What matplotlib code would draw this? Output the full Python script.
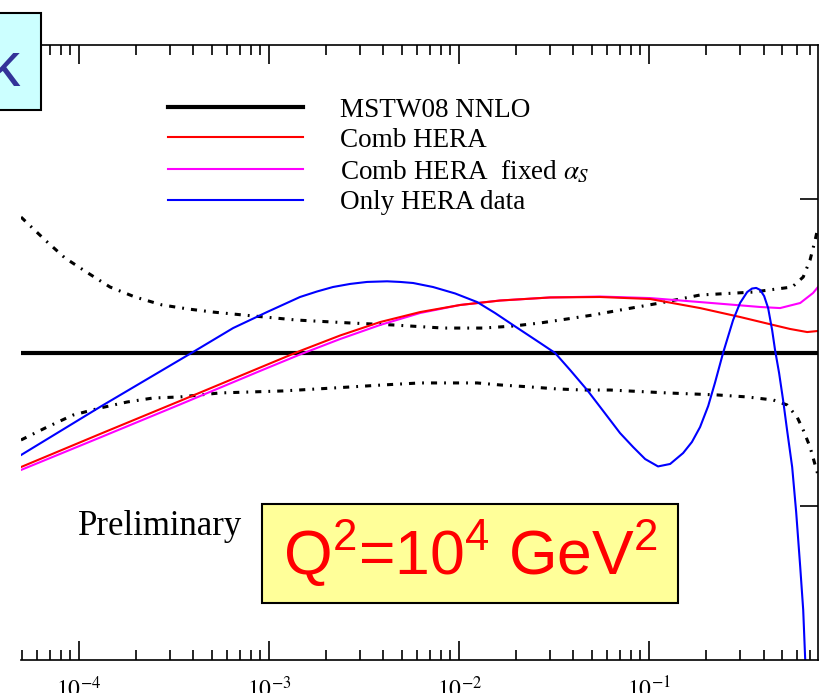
import matplotlib
matplotlib.use('Agg')
import matplotlib.pyplot as plt
from matplotlib.patches import Rectangle
from matplotlib.ticker import LogLocator, NullFormatter

plt.rcParams['font.family'] = ['Liberation Serif', 'DejaVu Serif']
plt.rcParams['mathtext.fontset'] = 'stix'
# used only by the Q^2 label (math_fontfamily='custom')
plt.rcParams['mathtext.rm'] = 'Liberation Sans'
plt.rcParams['mathtext.it'] = 'Liberation Sans'
plt.rcParams['mathtext.bf'] = 'Liberation Sans:bold'

# ratio to MSTW08 NNLO, Q^2 = 10^4 GeV^2
x_upper = [4.95e-5, 6.62e-5, 8.43e-5, 1.114e-4, 1.455e-4, 1.97e-4, 2.74e-4, 3.75e-4,
           5.07e-4, 7.29e-4, 1.40e-3, 2.67e-3, 4.50e-3, 8.24e-3, 1.337e-2, 1.92e-2,
           2.67e-2, 3.70e-2, 5.07e-2, 7.03e-2, 0.1143, 0.1854, 0.352, 0.566, 0.647,
           0.703, 0.748, 0.774]
y_upper = [1.0881, 1.0732, 1.0615, 1.0517, 1.0426, 1.0361, 1.0309, 1.0283,
           1.0263, 1.0244, 1.0211, 1.0192, 1.0179, 1.0159, 1.0159, 1.0172,
           1.0192, 1.0218, 1.0244, 1.0276, 1.0322, 1.0374, 1.0393, 1.0426, 1.0491,
           1.0602, 1.0732, 1.0816]

x_lower = [4.95e-5, 6.79e-5, 9.29e-5, 1.29e-4, 1.79e-4, 2.45e-4, 3.40e-4, 5.52e-4,
           1.186e-3, 2.17e-3, 3.98e-3, 6.24e-3, 8.97e-3, 1.245e-2, 1.64e-2, 2.37e-2,
           3.28e-2, 4.50e-2, 6.24e-2, 0.1245, 0.228, 0.328, 0.450, 0.532, 0.601,
           0.647, 0.703, 0.774]
y_lower = [0.9431, 0.9515, 0.9593, 0.9639, 0.9678, 0.9704, 0.9711, 0.9737,
           0.9750, 0.9769, 0.9789, 0.9802, 0.9802, 0.9802, 0.9789, 0.9776,
           0.9763, 0.9756, 0.9756, 0.9737, 0.9724, 0.9711, 0.9691, 0.9659, 0.9580,
           0.9496, 0.9385, 0.9203]

x_red = [4.95e-5, 1.29e-4, 3.40e-4, 8.97e-4, 1.455e-3, 2.37e-3, 3.84e-3, 6.24e-3,
         1.012e-2, 1.64e-2, 3.01e-2, 5.52e-2, 0.1012, 0.1854, 0.301, 0.450,
         0.552, 0.679, 0.774]
y_red = [0.9255, 0.9470, 0.9685, 0.9902, 1.0010, 1.0111, 1.0198, 1.0263,
         1.0309, 1.0338, 1.0358, 1.0361, 1.0348, 1.0289, 1.0231, 1.0179,
         1.0153, 1.0133, 1.0140]

x_mag = [4.95e-5, 1.29e-4, 3.40e-4, 8.97e-4, 1.455e-3, 2.37e-3, 3.84e-3, 6.24e-3,
         1.012e-2, 1.64e-2, 3.01e-2, 5.52e-2, 0.1012, 0.1854, 0.384, 0.489,
         0.624, 0.729, 0.774]
y_mag = [0.9236, 0.9447, 0.9662, 0.9880, 0.9987, 1.0088, 1.0179, 1.0257,
         1.0309, 1.0338, 1.0358, 1.0364, 1.0354, 1.0328, 1.0296, 1.0289,
         1.0322, 1.0387, 1.0426]

x_blue = [4.95e-5, 1.29e-4, 3.98e-4, 6.47e-4, 9.75e-4, 1.455e-3, 1.79e-3, 2.17e-3,
          2.67e-3, 3.28e-3, 4.18e-3, 4.89e-3, 5.73e-3, 7.29e-3, 9.53e-3, 1.245e-2,
          1.545e-2, 1.92e-2, 2.67e-2, 3.20e-2, 3.84e-2, 4.72e-2, 5.73e-2, 7.03e-2,
          8.24e-2, 9.53e-2, 0.1114, 0.129, 0.151, 0.168, 0.1854, 0.2046, 0.222,
          0.245, 0.2767, 0.301, 0.328, 0.348, 0.366, 0.384, 0.403, 0.423, 0.444,
          0.460, 0.483, 0.507, 0.532, 0.566, 0.594, 0.624, 0.647, 0.662, 0.679]
y_blue = [0.9333, 0.9646, 1.0003, 1.0159, 1.0263, 1.0361, 1.0397, 1.0426,
          1.0446, 1.0459, 1.0463, 1.0459, 1.0452, 1.0426, 1.0384, 1.0328,
          1.0257, 1.0179, 1.0062, 0.9997, 0.9886, 0.9756, 0.9620, 0.9476,
          0.9385, 0.9307, 0.9259, 0.9275, 0.9346, 0.9418, 0.9515, 0.9652, 0.9802,
          0.9997, 1.0211, 1.0322, 1.0393, 1.0416, 1.0420, 1.0407, 1.0367, 1.0289,
          1.0146, 1.0016, 0.9867, 0.9691, 0.9496, 0.9255, 0.8963, 0.8605, 0.8325,
          0.8019, 0.774]

labels = ['MSTW08 NNLO', 'Comb HERA', r'Comb HERA  fixed $\alpha_S$', 'Only HERA data']
xtick_vals = [1e-4, 1e-3, 1e-2, 1e-1]
xtick_labels = [r'$10^{-4}$', r'$10^{-3}$', r'$10^{-2}$', r'$10^{-1}$']

fig = plt.figure(figsize=(8.2, 6.93), dpi=100)
ax = fig.add_axes([21 / 820, 1 - 660 / 693, 797 / 820, 615 / 693])

dashdot = (0, (2.0, 2.3, 0.6, 2.3))
ax.plot(x_upper, y_upper, color='black', lw=2.2, linestyle=dashdot)
ax.plot(x_lower, y_lower, color='black', lw=2.2, linestyle=dashdot)
l_mstw = ax.axhline(1.0, color='black', lw=3)
l_mag, = ax.plot(x_mag, y_mag, color='#ff00ff', lw=1.5)
l_red, = ax.plot(x_red, y_red, color='#ff0000', lw=1.5)
l_blue, = ax.plot(x_blue, y_blue, color='#0000ff', lw=1.5)

ax.set_xscale('log')
ax.set_xlim(4.95e-5, 0.774)
ax.set_ylim(0.8, 1.2)

ax.set_xticks(xtick_vals)
ax.set_xticklabels(xtick_labels)
ax.xaxis.set_minor_locator(LogLocator(base=10, subs=range(2, 10), numticks=20))
ax.xaxis.set_minor_formatter(NullFormatter())
ax.tick_params(axis='x', which='major', direction='in', top=True, bottom=True,
               length=14, width=1.2, labelsize=17, pad=12)
ax.tick_params(axis='x', which='minor', direction='in', top=True, bottom=True,
               length=7, width=1.2)

ax.set_yticks([0.9, 1.0, 1.1])
ax.tick_params(axis='y', direction='in', left=False, right=True, labelleft=False,
               labelright=False, length=13, width=1.2)
ax.spines['left'].set_visible(False)
for s in ['top', 'bottom', 'right']:
    ax.spines[s].set_linewidth(1.2)

leg = ax.legend([l_mstw, l_red, l_mag, l_blue], labels, loc='upper left',
                bbox_to_anchor=(0.1844, 0.9146), frameon=False, fontsize=19.5,
                borderpad=0, borderaxespad=0, handlelength=4.98,
                handletextpad=1.37, labelspacing=0.2)

ax.text(0.0715, 0.2033, 'Preliminary', transform=ax.transAxes, fontsize=25,
        ha='left', va='baseline')

ax.add_patch(Rectangle((0.3024, 0.0927), 0.5219, 0.161, transform=ax.transAxes,
                       facecolor='#ffff99', edgecolor='black', lw=1.5, zorder=5))
ax.text(0.5640, 0.1382, r'Q$^2$=10$^4$ GeV$^2$', transform=ax.transAxes,
        fontsize=45, color='#ff0000', ha='center', va='baseline',
        math_fontfamily='custom', family='Liberation Sans', zorder=6)

# slide title box cut at the left edge
fig.patches.append(Rectangle((-0.02, 1 - 110 / 693), 0.02 + 41 / 820, 97 / 693,
                             transform=fig.transFigure, facecolor='#ccffff',
                             edgecolor='black', lw=1.5, zorder=10))
fig.text(-11 / 820, 1 - 86 / 693, 'k', fontsize=45, color='#333399',
         family='Liberation Sans', ha='left', va='baseline', zorder=11)

fig.savefig('out.png', dpi=100)
